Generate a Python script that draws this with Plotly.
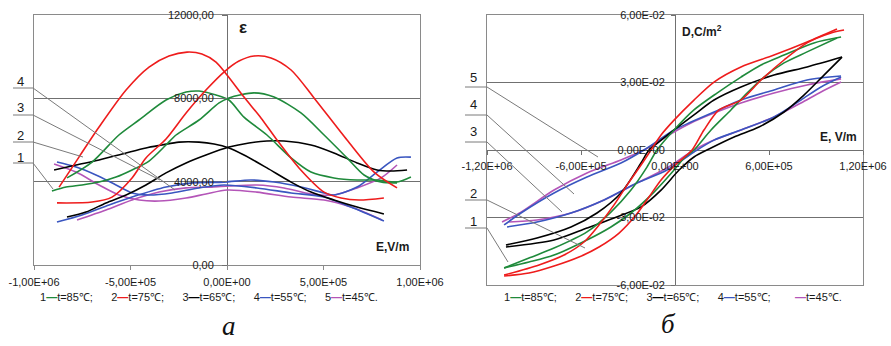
import plotly.graph_objects as go

W, H = 891, 346

# ---------------- common ----------------
temps = ["t=85℃", "t=75℃", "t=65℃", "t=55℃", "t=45℃"]
colors = ["#1F8A3B", "#EE1C1C", "#000000", "#3A56C0", "#B455B8"]

# ---------------- chart a : permittivity eps(E) ----------------
a_xtick_vals = [-1e6, -5e5, 0, 5e5, 1e6]
a_xtick_text = ["-1,00E+06", "-5,00E+05", "0,00E+00", "5,00E+05", "1,00E+06"]
a_ytick_vals = [0, 4000, 8000, 12000]
a_ytick_text = ["0,00", "4000,00", "8000,00", "12000,00"]

# 85 C (green)
g_up_E = [-8.29e5, -6.99e5, -5.60e5, -4.56e5, -3.16e5, -2.12e5, -1.45e5, -0.57e5, 0.10e5, 0.88e5, 2.07e5, 3.32e5, 4.35e5, 5.54e5, 6.74e5, 7.77e5, 8.81e5, 9.53e5]
g_up_eps = [4180, 4940, 6240, 6960, 7920, 8300, 8350, 8160, 7920, 7100, 6240, 5140, 4460, 4180, 4080, 4080, 3980, 4220]
g_dn_E = [-9.07e5, -8.34e5, -7.51e5, -6.63e5, -5.75e5, -4.92e5, -4.04e5, -3.16e5, -2.64e5, -1.45e5, -0.41e5, 0.10e5, 1.40e5, 2.44e5, 3.83e5, 5.03e5, 6.22e5, 7.10e5, 7.98e5, 8.81e5]
g_dn_eps = [3550, 3740, 3840, 3980, 4220, 4560, 4990, 5760, 6240, 6960, 7780, 8020, 8260, 8060, 7300, 6240, 5140, 4320, 3980, 3940]
# 75 C (red)
r_up_E = [-8.70e5, -7.67e5, -6.63e5, -5.23e5, -4.04e5, -3.01e5, -2.07e5, -1.30e5, -0.57e5, 0, 0.88e5, 1.76e5, 2.59e5, 3.73e5, 5.03e5, 5.91e5, 6.84e5, 8.13e5]
r_up_eps = [3740, 5180, 6620, 8400, 9500, 10030, 10220, 10130, 9740, 9120, 8060, 7060, 6000, 4660, 3500, 3220, 3120, 3220]
r_dn_E = [-8.81e5, -6.99e5, -5.96e5, -4.92e5, -4.20e5, -3.16e5, -2.12e5, -1.09e5, -0.10e5, 0.62e5, 1.40e5, 2.28e5, 3.32e5, 4.51e5, 6.22e5, 7.62e5, 8.81e5]
r_dn_eps = [2980, 3020, 3260, 4180, 5140, 6050, 7300, 8400, 9310, 9790, 10030, 9940, 9360, 8020, 6000, 4460, 3700]
# 65 C (black)
k_up_E = [-8.96e5, -7.82e5, -6.63e5, -5.23e5, -4.20e5, -3.37e5, -2.49e5, -1.45e5, -0.67e5, 0.10e5, 0.88e5, 2.07e5, 3.32e5, 4.35e5, 5.54e5, 6.74e5, 8.13e5]
k_up_eps = [4560, 4800, 5040, 5380, 5620, 5760, 5900, 5900, 5810, 5620, 5280, 4660, 3980, 3500, 3120, 2780, 2450]
k_dn_E = [-8.29e5, -7.31e5, -6.27e5, -5.23e5, -4.20e5, -3.16e5, -2.12e5, -1.09e5, 0.10e5, 1.14e5, 2.07e5, 2.95e5, 4.35e5, 5.54e5, 6.74e5, 7.77e5, 8.50e5, 9.33e5]
k_dn_eps = [2300, 2540, 2980, 3360, 3840, 4420, 4900, 5280, 5660, 5860, 5950, 5950, 5760, 5380, 4900, 4560, 4510, 4560]
# 55 C (blue)
b_up_E = [-8.81e5, -7.82e5, -6.79e5, -5.75e5, -4.92e5, -4.04e5, -2.85e5, -1.45e5, -0.16e5, 1.55e5, 3.32e5, 5.03e5, 6.42e5, 8.13e5]
b_up_eps = [4940, 4700, 4320, 3840, 3460, 3360, 3460, 3700, 3840, 3700, 3460, 3260, 2780, 2110]
b_dn_E = [-8.81e5, -7.51e5, -6.11e5, -4.92e5, -3.16e5, -1.81e5, -0.16e5, 1.24e5, 2.44e5, 3.83e5, 5.03e5, 5.54e5, 6.74e5, 7.77e5, 8.81e5, 9.53e5]
b_dn_eps = [2060, 2400, 2880, 3260, 3740, 3940, 3980, 4080, 3980, 3740, 3460, 3360, 3740, 4460, 5140, 5180]
# 45 C (magenta)
m_up_E = [-8.96e5, -7.82e5, -6.63e5, -5.60e5, -4.56e5, -3.52e5, -2.12e5, -1.09e5, 0, 1.55e5, 3.32e5, 5.03e5, 6.42e5, 8.03e5]
m_up_eps = [4850, 4460, 3840, 3360, 3120, 3070, 3220, 3410, 3600, 3500, 3260, 3120, 2780, 2160]
m_dn_E = [-7.77e5, -6.27e5, -4.92e5, -3.52e5, -2.12e5, -0.78e5, 0.10e5, 1.55e5, 2.95e5, 4.35e5, 5.54e5, 6.74e5, 7.98e5, 8.81e5]
m_dn_eps = [2160, 2640, 3120, 3500, 3700, 3740, 3790, 3840, 3700, 3410, 3360, 3700, 4180, 4800]

# ---------------- chart b : D(E) hysteresis ----------------
b_xtick_vals = [-1.2e6, -6e5, 0, 6e5, 1.2e6]
b_xtick_text = ["-1,20E+06", "-6,00E+05", "0,00E+00", "6,00E+05", "1,20E+06"]
b_ytick_vals = [-0.06, -0.03, 0, 0.03, 0.06]
b_ytick_text = ["-6,00E-02", "-3,00E-02", "0,00E+00", "3,00E-02", "6,00E-02"]

# 85 C (green)
gD_L_E = [1.060e6, 0.887e6, 0.696e6, 0.549e6, 0.421e6, 0.268e6, 0.121e6, -0.006e6, -0.115e6, -0.179e6, -0.281e6, -0.409e6, -0.562e6, -0.772e6, -0.932e6, -1.091e6]
gD_L_D = [0.0502, 0.0476, 0.0422, 0.0378, 0.0324, 0.0253, 0.0178, 0.0089, 0.0, -0.0076, -0.0178, -0.0276, -0.0364, -0.0436, -0.0480, -0.0524]
gD_R_E = [-1.091e6, -0.932e6, -0.772e6, -0.562e6, -0.409e6, -0.281e6, -0.134e6, -0.006e6, 0.057e6, 0.121e6, 0.230e6, 0.357e6, 0.460e6, 0.568e6, 0.696e6, 0.843e6, 1.034e6]
gD_R_D = [-0.0524, -0.0498, -0.0467, -0.0400, -0.0342, -0.0280, -0.0187, -0.0089, -0.0036, 0.0, 0.0089, 0.0178, 0.0253, 0.0324, 0.0387, 0.0436, 0.0498]
# 75 C (red)
rD_L_E = [1.034e6, 0.843e6, 0.632e6, 0.421e6, 0.249e6, 0.121e6, -0.006e6, -0.089e6, -0.153e6, -0.217e6, -0.306e6, -0.389e6, -0.485e6, -0.581e6, -0.708e6, -0.868e6, -1.091e6]
rD_L_D = [0.0538, 0.0480, 0.0422, 0.0369, 0.0302, 0.0222, 0.0133, 0.0067, 0.0, -0.0067, -0.0156, -0.0244, -0.0333, -0.0409, -0.0467, -0.0511, -0.0556]
rD_R_E = [-1.091e6, -0.932e6, -0.772e6, -0.613e6, -0.485e6, -0.357e6, -0.249e6, -0.166e6, -0.089e6, 0.0, 0.109e6, 0.185e6, 0.281e6, 0.421e6, 0.549e6, 0.696e6, 0.843e6, 0.996e6, 1.079e6]
rD_R_D = [-0.0560, -0.0547, -0.0516, -0.0476, -0.0431, -0.0369, -0.0289, -0.0209, -0.0133, -0.0067, 0.0, 0.0089, 0.0178, 0.0222, 0.0311, 0.0400, 0.0476, 0.0520, 0.0533]
# 65 C (black)
kD_L_E = [1.066e6, 0.843e6, 0.632e6, 0.421e6, 0.249e6, 0.121e6, -0.006e6, -0.102e6, -0.166e6, -0.217e6, -0.345e6, -0.498e6, -0.664e6, -0.881e6, -1.079e6]
kD_L_D = [0.0413, 0.0369, 0.0333, 0.0280, 0.0222, 0.0156, 0.0089, 0.0036, 0.0, -0.0058, -0.0191, -0.0280, -0.0342, -0.0391, -0.0422]
kD_R_E = [-1.079e6, -0.772e6, -0.562e6, -0.389e6, -0.217e6, -0.089e6, 0.026e6, 0.121e6, 0.230e6, 0.377e6, 0.536e6, 0.696e6, 0.823e6, 0.951e6, 1.066e6]
kD_R_D = [-0.0431, -0.0400, -0.0347, -0.0302, -0.0253, -0.0178, -0.0089, -0.0031, 0.0009, 0.0058, 0.0102, 0.0169, 0.0244, 0.0333, 0.0413]
# 55 C (blue)
bD_L_E = [1.060e6, 0.843e6, 0.632e6, 0.421e6, 0.249e6, 0.102e6, -0.006e6, -0.198e6, -0.345e6, -0.562e6, -0.772e6, -0.983e6, -1.091e6]
bD_L_D = [0.0329, 0.0311, 0.0267, 0.0222, 0.0169, 0.0124, 0.0089, 0.0, -0.0058, -0.0120, -0.0191, -0.0280, -0.0333]
bD_R_E = [-1.072e6, -0.881e6, -0.664e6, -0.453e6, -0.243e6, -0.051e6, 0.121e6, 0.249e6, 0.421e6, 0.632e6, 0.804e6, 0.932e6, 1.060e6]
bD_R_D = [-0.0342, -0.0320, -0.0280, -0.0222, -0.0147, -0.0089, -0.0009, 0.0044, 0.0089, 0.0147, 0.0222, 0.0280, 0.0324]
# 45 C (magenta)
mD_L_E = [1.060e6, 0.843e6, 0.632e6, 0.421e6, 0.249e6, 0.102e6, -0.006e6, -0.198e6, -0.345e6, -0.562e6, -0.772e6, -0.983e6, -1.104e6]
mD_L_D = [0.0316, 0.0289, 0.0253, 0.0209, 0.0164, 0.0120, 0.0080, 0.0, -0.0044, -0.0102, -0.0178, -0.0276, -0.0320]
mD_R_E = [-1.060e6, -0.881e6, -0.664e6, -0.453e6, -0.243e6, -0.051e6, 0.121e6, 0.249e6, 0.421e6, 0.632e6, 0.804e6, 0.932e6, 1.060e6]
mD_R_D = [-0.0320, -0.0311, -0.0280, -0.0222, -0.0147, -0.0080, 0.0, 0.0044, 0.0089, 0.0147, 0.0209, 0.0258, 0.0302]

# ---------------- layout geometry (pixels) ----------------
A_X0, A_X1, A_Y0, A_Y1 = 34, 420, 15, 265
B_X0, B_X1, B_Y0, B_Y1 = 487, 863, 15, 285


def px(x):
    return x / W


def py(y):
    return 1 - y / H


a_xdom = [px(A_X0), px(A_X1)]
a_ydom = [py(A_Y1), py(A_Y0)]
b_xdom = [px(B_X0), px(B_X1)]
b_ydom = [py(B_Y1), py(B_Y0)]
a_xr = [-1e6, 1e6]
a_yr = [0, 12000]
b_xr = [-1.2e6, 1.2e6]
b_yr = [-0.06, 0.06]


def frac(dom, rng, v):
    return dom[0] + (v - rng[0]) / (rng[1] - rng[0]) * (dom[1] - dom[0])


fig = go.Figure()

a_series = [
    (g_up_E, g_up_eps, g_dn_E, g_dn_eps),
    (r_up_E, r_up_eps, r_dn_E, r_dn_eps),
    (k_up_E, k_up_eps, k_dn_E, k_dn_eps),
    (b_up_E, b_up_eps, b_dn_E, b_dn_eps),
    (m_up_E, m_up_eps, m_dn_E, m_dn_eps),
]
b_series = [
    (gD_L_E, gD_L_D, gD_R_E, gD_R_D),
    (rD_L_E, rD_L_D, rD_R_E, rD_R_D),
    (kD_L_E, kD_L_D, kD_R_E, kD_R_D),
    (bD_L_E, bD_L_D, bD_R_E, bD_R_D),
    (mD_L_E, mD_L_D, mD_R_E, mD_R_D),
]

for i in [4, 3, 2, 0, 1]:
    x1, y1, x2, y2 = a_series[i]
    for xs, ys in ((x1, y1), (x2, y2)):
        fig.add_trace(go.Scatter(x=xs, y=ys, mode="lines", xaxis="x", yaxis="y",
                                 line=dict(color=colors[i], width=1.6, shape="spline", smoothing=0.8),
                                 name=temps[i], showlegend=False, hoverinfo="skip"))
for i in [4, 3, 2, 0, 1]:
    x1, y1, x2, y2 = b_series[i]
    for xs, ys in ((x1, y1), (x2, y2)):
        fig.add_trace(go.Scatter(x=xs, y=ys, mode="lines", xaxis="x2", yaxis="y2",
                                 line=dict(color=colors[i], width=1.6, shape="spline", smoothing=0.8),
                                 name=temps[i], showlegend=False, hoverinfo="skip"))

# empty anchor traces for the overlay tick axes
fig.add_trace(go.Scatter(x=[], y=[], xaxis="x", yaxis="y3", showlegend=False))
fig.add_trace(go.Scatter(x=[], y=[], xaxis="x3", yaxis="y2", showlegend=False))
fig.add_trace(go.Scatter(x=[], y=[], xaxis="x2", yaxis="y4", showlegend=False))

FRAME = "#8a8a8a"
GRID = "#707070"
TICKF = dict(family="Liberation Sans, Arial, sans-serif", size=11, color="#1a1a1a")

fig.update_layout(
    width=W, height=H,
    margin=dict(l=0, r=0, t=0, b=0, pad=0, autoexpand=False),
    paper_bgcolor="white", plot_bgcolor="white",
    showlegend=False,
    xaxis=dict(domain=a_xdom, range=a_xr, anchor="y", tickvals=a_xtick_vals, ticktext=a_xtick_text,
               ticks="outside", ticklen=4, tickcolor=FRAME, tickfont=TICKF, ticklabelstandoff=3,
               showline=True, mirror=True, linecolor=FRAME, linewidth=1, automargin=False,
               showgrid=False, zeroline=True, zerolinecolor=GRID, zerolinewidth=1),
    yaxis=dict(domain=a_ydom, range=a_yr, anchor="x", tickvals=a_ytick_vals, showticklabels=False,
               showline=True, mirror=True, linecolor=FRAME, linewidth=1, automargin=False,
               showgrid=True, gridcolor=GRID, gridwidth=1, zeroline=False),
    yaxis3=dict(overlaying="y", anchor="free", position=frac(a_xdom, a_xr, 0), range=a_yr,
                tickvals=a_ytick_vals, ticktext=a_ytick_text, ticks="outside", ticklen=5,
                tickcolor=GRID, tickfont=TICKF, ticklabelstandoff=6, automargin=False,
                showline=False, showgrid=False, zeroline=False),
    xaxis2=dict(domain=b_xdom, range=b_xr, anchor="y2", tickvals=b_xtick_vals, showticklabels=False,
                showline=True, mirror=True, linecolor=FRAME, linewidth=1, automargin=False,
                showgrid=False, zeroline=True, zerolinecolor=GRID, zerolinewidth=1),
    yaxis2=dict(domain=b_ydom, range=b_yr, anchor="x2", tickvals=b_ytick_vals, showticklabels=False,
                showline=True, mirror=True, linecolor=FRAME, linewidth=1, automargin=False,
                showgrid=True, gridcolor=GRID, gridwidth=1, zeroline=True, zerolinecolor=GRID, zerolinewidth=1),
    xaxis3=dict(overlaying="x2", anchor="free", position=frac(b_ydom, b_yr, 0), range=b_xr,
                tickvals=b_xtick_vals, ticktext=b_xtick_text, ticks="outside", ticklen=4,
                tickcolor=GRID, tickfont=TICKF, ticklabelstandoff=2, automargin=False,
                showline=False, showgrid=False, zeroline=False),
    yaxis4=dict(overlaying="y2", anchor="free", position=frac(b_xdom, b_xr, 0), range=b_yr,
                tickvals=b_ytick_vals, ticktext=b_ytick_text, ticks="outside", ticklen=4,
                tickcolor=GRID, tickfont=TICKF, ticklabelstandoff=4, automargin=False,
                showline=False, showgrid=False, zeroline=False),
)

# ---------------- callout leader lines ----------------
LEAD = "#7a7a7a"
a_callouts = [  # label, label_y, line_y, end_x, end_y (pixels)
    ("4", 82, 88, 175, 190),
    ("3", 108, 115, 160, 180),
    ("2", 135, 142, 83, 157),
    ("1", 157, 163, 53, 189),
]
b_callouts = [
    ("5", 77, 87, 598, 157),
    ("4", 104, 115, 574, 194),
    ("3", 131, 142, 562, 212),
    ("2", 193, 200, 585, 248),
    ("1", 221, 228, 508, 262),
]
shapes = []
annotations = []
LBLF = dict(family="Liberation Sans, Arial, sans-serif", size=13, color="#1a1a1a")


def note(x, y, text, font, xanchor="center"):
    return dict(x=px(x), y=py(y), xref="paper", yref="paper", text=text, showarrow=False,
                xanchor=xanchor, yanchor="middle", font=font)


for lab, ly, hy, ex, ey in a_callouts:
    shapes.append(dict(type="path", xref="paper", yref="paper",
                       path=f"M {px(13)},{py(hy)} L {px(33)},{py(hy)} L {px(ex)},{py(ey)}",
                       line=dict(color=LEAD, width=1)))
    annotations.append(note(20, ly, lab, LBLF))
for lab, ly, hy, ex, ey in b_callouts:
    shapes.append(dict(type="path", xref="paper", yref="paper",
                       path=f"M {px(465)},{py(hy)} L {px(487)},{py(hy)} L {px(ex)},{py(ey)}",
                       line=dict(color=LEAD, width=1)))
    annotations.append(note(473, ly, lab, LBLF))

BOLD = dict(family="Liberation Sans, Arial, sans-serif", size=12, color="#1a1a1a")
annotations += [
    note(243, 27, "<b>ε</b>", dict(family="Liberation Sans, Arial, sans-serif", size=17, color="#1a1a1a")),
    note(411, 247, "<b>E,V/m</b>", BOLD, "right"),
    note(680, 31, "<b>D,C/m<sup>2</sup></b>", BOLD, "left"),
    note(859, 137, "<b>E, V/m</b>", BOLD, "right"),
]

# ---------------- legends ----------------
NB = "\u00a0"


def legend_text(nums):
    parts = []
    for i in range(5):
        sep = ";" if i < 4 else "."
        parts.append(f"{nums[i]}<span style=\"color:{colors[i]}\"><b>—</b></span>{temps[i]}{sep}")
    return (NB * 6).join(parts)


LEGF = dict(family="Liberation Sans, Arial, sans-serif", size=11, color="#1a1a1a")
SERIF = dict(family="Liberation Serif, Times New Roman, serif", size=27, color="#111")
annotations += [
    note(209, 297, legend_text(["1", "2", "3", "4", "5"]), LEGF),
    note(673, 297, legend_text(["1", "2", "3", "4", NB * 2]), LEGF),
    note(229, 326, "<i>a</i>", SERIF),
    note(668, 324, "<i>б</i>", SERIF),
]

fig.update_layout(shapes=shapes, annotations=annotations)
fig.write_html("out.html", config={"displayModeBar": False},
               post_script="document.body.style.margin='0';document.body.style.padding='0';")
